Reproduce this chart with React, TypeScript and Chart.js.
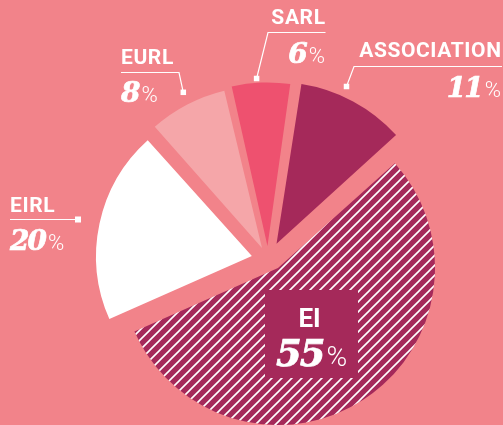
import React, { useEffect, useRef } from 'react';
import { Chart, registerables } from 'chart.js';
Chart.register(...registerables);

// ---- data ----
const categories = ['ASSOCIATION', 'EI', 'EIRL', 'EURL', 'SARL'];
const shares = [11, 55, 20, 8, 6];

// ---- styles / layout ----
const W = 503;
const H = 425;
const BG = '#F2838A';
const DARK = '#A5295A';
const WHITE = '#FFFFFF';
const EURL_C = '#F5A6A9';
const SARL_C = '#EE516F';
const CLEAR = 'rgba(0,0,0,0)';
const ROTATION = 8.5;

// small slices pie (exploded by per-slice offset)
const smallPie = { cx: 268, cy: 259.5, radius: 155, offsets: [72, 0, 66, 52, 54] };
// main EI slice pie
const mainPie = { cx: 278, cy: 268, radius: 157 };

type Spot = { align: 'left' | 'right'; x: number; nameY: number; pctY: number; line: number[][]; sq: number };
const labelSpots: Record<string, Spot> = {
  ASSOCIATION: { align: 'right', x: 501, nameY: 57, pctY: 97, line: [[502, 66.5], [354, 66.5], [346.5, 86.5]], sq: 5.5 },
  SARL: { align: 'right', x: 325, nameY: 24, pctY: 63, line: [[325.5, 32.5], [268, 32.5], [256.6, 78.5]], sq: 5.5 },
  EURL: { align: 'left', x: 121, nameY: 64, pctY: 102, line: [[121, 72.5], [179, 72.5], [183.3, 92.3]], sq: 5.5 },
  EIRL: { align: 'left', x: 10, nameY: 212, pctY: 250, line: [[10, 219.5], [78, 219.5]], sq: 6 },
};
const eiBox = { x: 265, y: 290, w: 93, h: 88, cx: 311.5, nameY: 327, pctY: 366 };

const NAME_FONT = 'bold 21px Roboto';
const NUM_FONT = 'italic bold 28px "DejaVu Serif"';
const PCT_FONT = '300 22px Roboto';

function makeHatch(): CanvasPattern | string {
  const c = document.createElement('canvas');
  const s = 10;
  c.width = s;
  c.height = s;
  const g = c.getContext('2d');
  if (!g) return DARK;
  g.fillStyle = DARK;
  g.fillRect(0, 0, s, s);
  g.strokeStyle = '#FFFFFF';
  g.lineWidth = 1.6;
  g.beginPath();
  g.moveTo(-2, s + 2);
  g.lineTo(s + 2, -2);
  g.moveTo(-2, 2);
  g.lineTo(2, -2);
  g.moveTo(s - 2, s + 2);
  g.lineTo(s + 2, s - 2);
  g.stroke();
  return g.createPattern(c, 'repeat') || DARK;
}

function setSpacing(ctx: CanvasRenderingContext2D, v: string) {
  (ctx as any).letterSpacing = v;
}

function drawPct(ctx: CanvasRenderingContext2D, num: string, align: 'left' | 'right' | 'center', x: number, y: number, numFont: string, pctFont: string) {
  ctx.font = numFont;
  setSpacing(ctx, '-2px');
  const wn = ctx.measureText(num).width;
  setSpacing(ctx, '0px');
  ctx.font = pctFont;
  const wp = ctx.measureText('%').width;
  const gap = 3;
  const total = wn + gap + wp;
  let x0 = x;
  if (align === 'right') x0 = x - total;
  if (align === 'center') x0 = x - total / 2;
  ctx.textAlign = 'left';
  ctx.font = numFont;
  setSpacing(ctx, '-2px');
  ctx.fillText(num, x0, y);
  ctx.lineWidth = 0.7;
  ctx.strokeText(num, x0, y);
  setSpacing(ctx, '0px');
  ctx.font = pctFont;
  ctx.fillText('%', x0 + wn + gap, y);
}

const labelPlugin = {
  id: 'sliceLabels',
  afterDraw(chart: any) {
    const ctx: CanvasRenderingContext2D = chart.ctx;
    ctx.save();
    ctx.fillStyle = WHITE;
    ctx.strokeStyle = WHITE;
    ctx.textBaseline = 'alphabetic';
    categories.forEach((name, i) => {
      const spot = labelSpots[name];
      if (!spot) return;
      ctx.font = NAME_FONT;
      setSpacing(ctx, '0.6px');
      ctx.textAlign = spot.align;
      ctx.fillText(name, spot.x - (spot.align === 'right' ? -0.6 : 0), spot.nameY);
      setSpacing(ctx, '0px');
      drawPct(ctx, String(shares[i]), spot.align, spot.x, spot.pctY, NUM_FONT, PCT_FONT);
      ctx.lineWidth = 1.2;
      ctx.beginPath();
      spot.line.forEach((p, k) => (k === 0 ? ctx.moveTo(p[0], p[1]) : ctx.lineTo(p[0], p[1])));
      ctx.stroke();
      const end = spot.line[spot.line.length - 1];
      ctx.fillRect(end[0] - spot.sq / 2, end[1] - spot.sq / 2, spot.sq, spot.sq);
    });
    // EI label box
    const ei = categories.indexOf('EI');
    ctx.fillStyle = DARK;
    ctx.fillRect(eiBox.x, eiBox.y, eiBox.w, eiBox.h);
    ctx.fillStyle = WHITE;
    ctx.font = 'bold 26px Roboto';
    ctx.textAlign = 'center';
    ctx.fillText(categories[ei], eiBox.cx - 2, eiBox.nameY);
    drawPct(ctx, String(shares[ei]), 'center', eiBox.cx, eiBox.pctY, 'italic bold 37px "DejaVu Serif"', '300 28px Roboto');
    ctx.restore();
  },
};

function makeConfig(colors: any[], offsets: number[], pie: { cx: number; cy: number; radius: number }, plugins: any[]): any {
  return {
    type: 'pie',
    data: {
      labels: categories,
      datasets: [
        {
          data: shares,
          backgroundColor: colors,
          borderWidth: 0,
          offset: offsets,
          hoverOffset: 0,
          clip: false,
        },
      ],
    },
    options: {
      responsive: false,
      animation: false,
      events: [],
      rotation: ROTATION,
      radius: pie.radius,
      layout: { padding: { left: 2 * pie.cx - W, top: 2 * pie.cy - H, right: 0, bottom: 0 } },
      plugins: { legend: { display: false }, tooltip: { enabled: false } },
    },
    plugins,
  };
}

export default function App() {
  const refA = useRef<HTMLCanvasElement>(null);
  const refB = useRef<HTMLCanvasElement>(null);
  useEffect(() => {
    document.body.style.margin = '0';
    const hatch = makeHatch();
    const colorsA = categories.map((c) => (c === 'EI' ? hatch : CLEAR));
    const colorsB = [DARK, CLEAR, WHITE, EURL_C, SARL_C];
    const a = new Chart(refA.current as HTMLCanvasElement, makeConfig(colorsA, categories.map(() => 0), mainPie, []));
    const b = new Chart(refB.current as HTMLCanvasElement, makeConfig(colorsB, smallPie.offsets, smallPie, [labelPlugin]));
    return () => {
      a.destroy();
      b.destroy();
    };
  }, []);
  return (
    <div style={{ position: 'relative', width: W, height: H, background: BG, overflow: 'hidden' }}>
      <canvas ref={refA} width={W} height={H} style={{ position: 'absolute', left: 0, top: 0 }} />
      <canvas ref={refB} width={W} height={H} style={{ position: 'absolute', left: 0, top: 0 }} />
    </div>
  );
}
